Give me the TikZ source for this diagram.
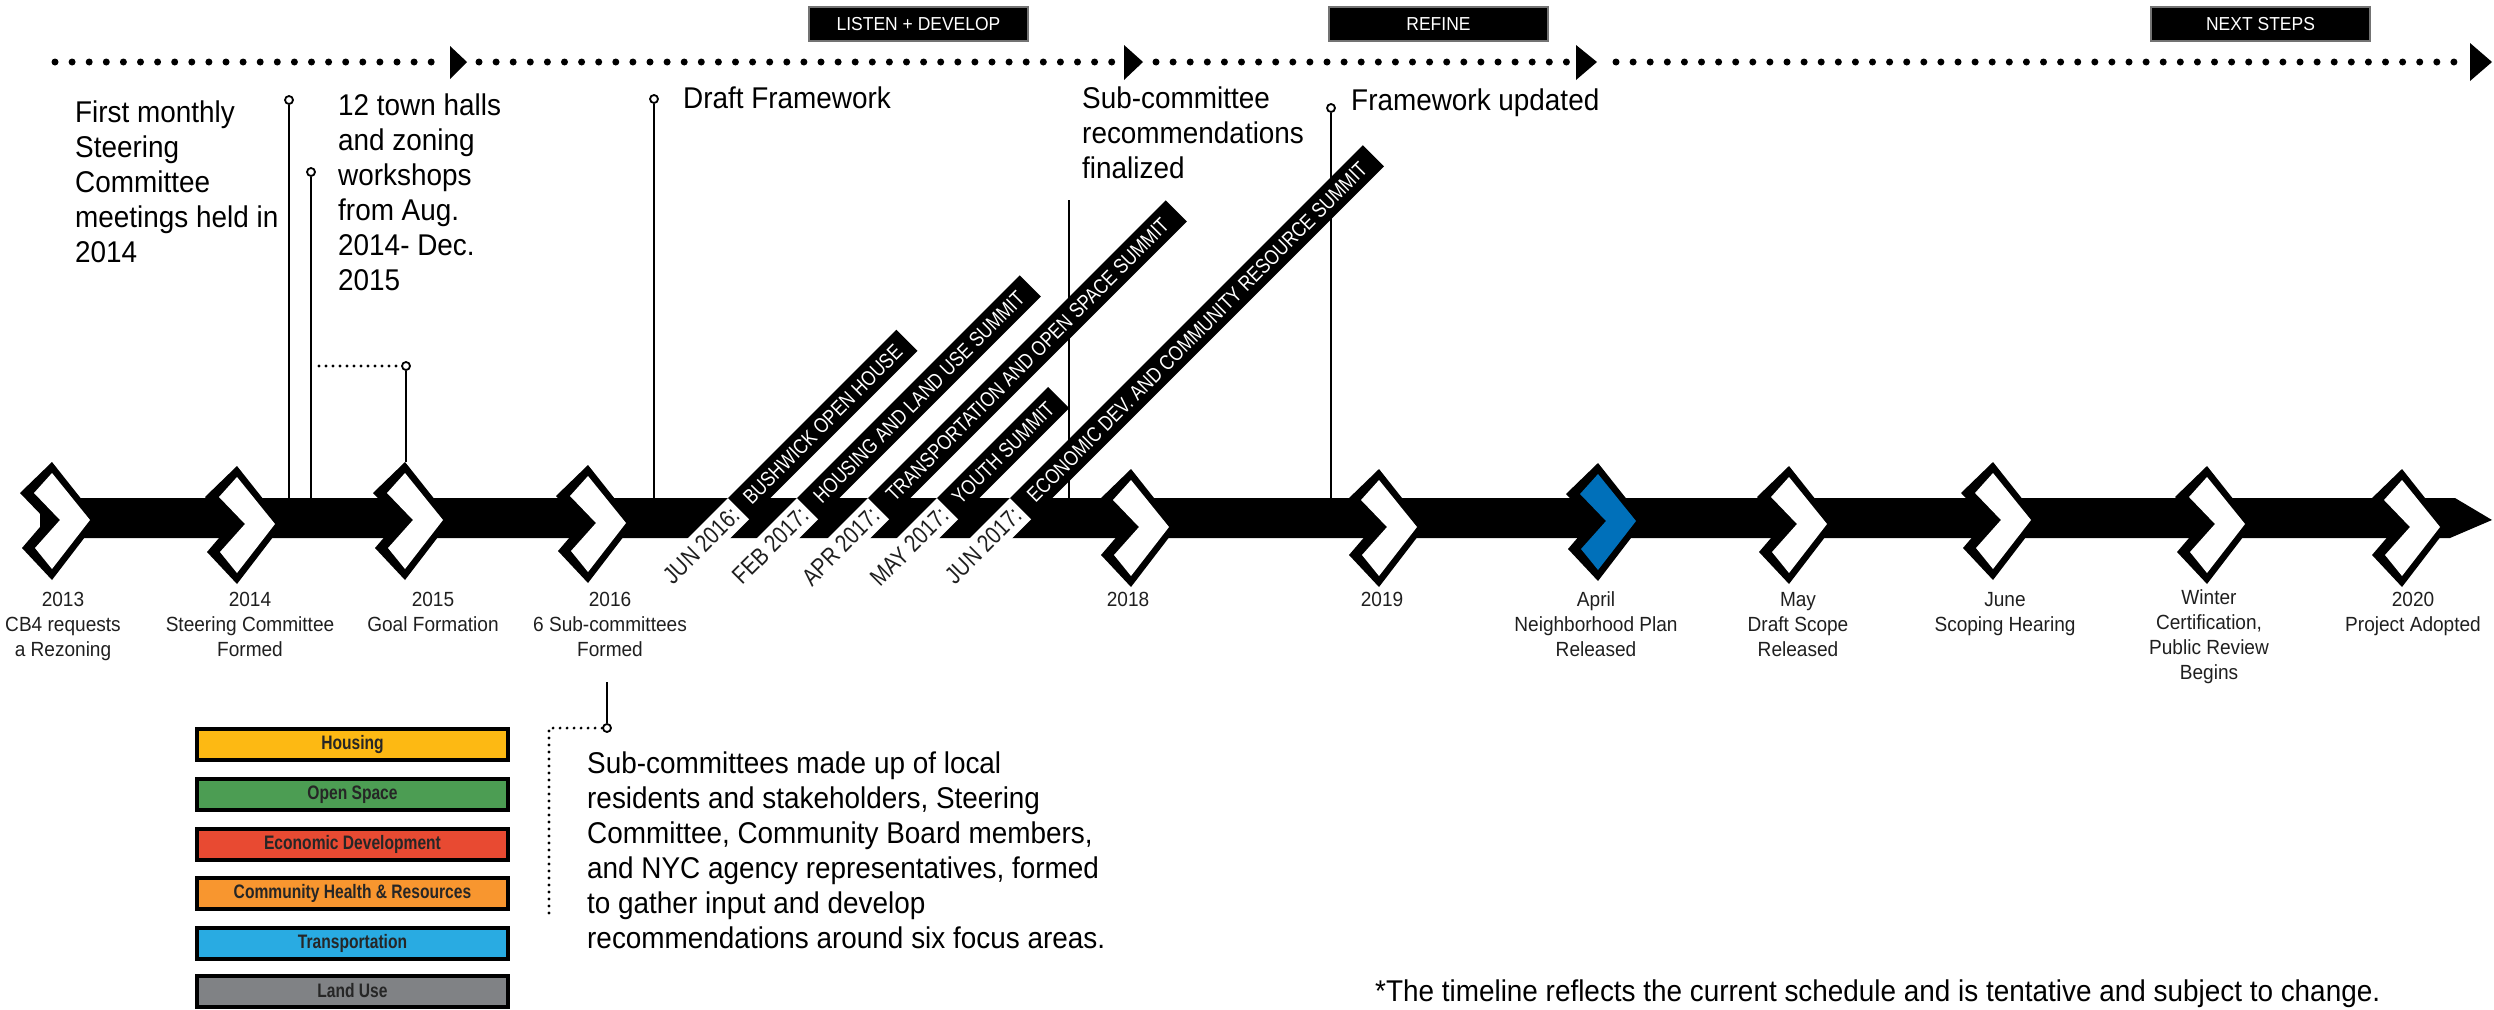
\documentclass[tikz,border=0pt]{standalone}
\usepackage{fontspec}
\setmainfont[FakeStretch=0.93]{Liberation Sans}
\newfontfamily\condfont[FakeStretch=0.83]{Liberation Sans}
\newfontfamily\legfont[FakeStretch=0.8]{Liberation Sans}
\definecolor{housing}{RGB}{253,185,19}
\definecolor{openspace}{RGB}{76,157,83}
\definecolor{econ}{RGB}{232,74,50}
\definecolor{community}{RGB}{248,150,47}
\definecolor{transport}{RGB}{41,171,226}
\definecolor{landuse}{RGB}{128,130,133}
\definecolor{chevblue}{RGB}{0,112,186}
\newcommand\mychev[3]{%
  \begin{scope}[shift={(#1,#2)}]
    \fill[black] (0,-58) -- (46,0) -- (0,60) -- (-30,28) -- (-6,0) -- (-32,-27) -- cycle;
    \fill[#3] (0,-47) -- (38,0) -- (0,49) -- (-17,28) -- (8,0) -- (-18,-27) -- cycle;
  \end{scope}}
\newcommand\mybanner[5]{%
  \begin{scope}[shift={(#1,498)}, rotate=45]
    \fill[white] (-70,0) rectangle (0,30);
    \fill[black] (0,0) rectangle (#2,30);
    \node[datetxt, anchor=east, rotate=45] (d#5) at (-4,15) {#3};
    \node[bantxt, rotate=45] (t#5) at ({#2/2},15) {#4};
  \end{scope}}
\begin{document}
\begin{tikzpicture}[x=1pt, y=-1pt,
  big/.style={font=\fontsize{30}{35}\selectfont, inner sep=0pt, align=left},
  lab/.style={font=\fontsize{20.5}{25}\selectfont, inner sep=0pt, align=center, text=black!88},
  bantxt/.style={font=\condfont\fontsize{21}{22}\selectfont, inner sep=0pt, text=white},
  datetxt/.style={font=\condfont\fontsize{24.5}{26}\selectfont, inner sep=0pt, text=black!88},
  phase/.style={fill=black, draw=black!55, line width=1.5pt, text=white,
    font=\fontsize{18.8}{20}\selectfont, minimum width=219pt, minimum height=34pt, inner sep=0pt},
  legbox/.style={draw=black, line width=4pt, minimum width=311pt, minimum height=31pt,
    inner sep=0pt, font=\legfont\bfseries\fontsize{19.5}{20}\selectfont, text=black!85},
  bigdots/.style={line width=7pt, line cap=round, dash pattern=on 0pt off 17.1pt},
  smalldots/.style={line width=3.2pt, line cap=round, dash pattern=on 0pt off 7pt},
  callout/.style={line width=2.2pt},
  pindot/.style={circle, draw, line width=1.8pt, fill=white, inner sep=0pt, minimum size=8pt}]
\useasboundingbox (0,0) rectangle (2494,1009);

% top dotted phase line
\draw[bigdots] (55,62) -- (440,62);
\draw[bigdots] (479,62) -- (1117,62);
\draw[bigdots] (1156,62) -- (1568,62);
\draw[bigdots] (1616,62) -- (2462,62);
\fill (450,46) -- (467,62) -- (450,79) -- cycle;
\fill (1124,45) -- (1143,62) -- (1124,80) -- cycle;
\fill (1576,45) -- (1597,62) -- (1576,80) -- cycle;
\fill (2470,43) -- (2492,62) -- (2470,81) -- cycle;

\node[phase] (p1) at (918.5,24) {LISTEN + DEVELOP};
\node[phase] (p2) at (1438.5,24) {REFINE};
\node[phase] (p3) at (2260.5,24) {NEXT STEPS};

% callout lines
\node[pindot] (c1) at (289,100) {};
\node[pindot] (c2) at (311,172) {};
\node[pindot] (c3) at (406,366) {};
\node[pindot] (c4) at (654,99) {};
\node[pindot] (c6) at (1331,108) {};
\coordinate (b1) at (289,498);
\coordinate (b2) at (311,498);
\coordinate (b3) at (406,462);
\coordinate (b4) at (654,498);
\coordinate (a5) at (1069,200);
\coordinate (b5) at (1069,498);
\coordinate (b6) at (1331,498);
\coordinate (h3) at (319,366);
\draw[callout] (c1) -- (b1);
\draw[callout] (c2) -- (b2);
\draw[callout] (c3) -- (b3);
\draw[callout] (c4) -- (b4);
\draw[callout] (a5) -- (b5);
\draw[callout] (c6) -- (b6);
\draw[smalldots] (h3) -- (c3.west);

% main bar
\fill[black] (40,498) -- (2455,498) -- (2492,520) -- (2450,538) -- (40,538) -- cycle;

% diagonal banners
\mybanner{728}{238}{JUN 2016:}{BUSHWICK OPEN HOUSE}{1}
\mybanner{797}{315}{FEB 2017:}{HOUSING AND LAND USE SUMMIT}{2}
\mybanner{868}{421}{APR 2017:}{TRANSPORTATION AND OPEN SPACE SUMMIT}{3}
\mybanner{937}{157}{MAY 2017:}{YOUTH SUMMIT}{4}
\mybanner{1010}{499}{JUN 2017:}{ECONOMIC DEV. AND COMMUNITY RESOURCE SUMMIT}{5}

% chevrons
\mychev{52}{520}{white}
\mychev{237}{524}{white}
\mychev{405}{520}{white}
\mychev{588}{523}{white}
\mychev{1131}{527}{white}
\mychev{1379}{527}{white}
\mychev{1598}{521}{chevblue}
\mychev{1789}{524}{white}
\mychev{1993}{520}{white}
\mychev{2207}{524}{white}
\mychev{2402}{527}{white}

% chevron labels (anchor = baseline of last line)
\node[lab, anchor=base] (l2013) at (63,656) {2013\\CB4 requests\\a Rezoning};
\node[lab, anchor=base] (l2014) at (250,656) {2014\\Steering Committee\\Formed};
\node[lab, anchor=base] (l2015) at (433,631) {2015\\Goal Formation};
\node[lab, anchor=base] (l2016) at (610,656) {2016\\6 Sub-committees\\Formed};
\node[lab, anchor=base] (l2018) at (1128,606) {2018};
\node[lab, anchor=base] (l2019) at (1382,606) {2019};
\node[lab, anchor=base] (lapr) at (1596,656) {April\\Neighborhood Plan\\Released};
\node[lab, anchor=base] (lmay) at (1798,656) {May\\Draft Scope\\Released};
\node[lab, anchor=base] (ljun) at (2005,631) {June\\Scoping Hearing};
\node[lab, anchor=base] (lwin) at (2209,679) {Winter\\Certification,\\Public Review\\Begins};
\node[lab, anchor=base] (l2020) at (2413,631) {2020\\Project Adopted};

% top texts
\node[big, anchor=base west] (tfirst) at (75,262) {First monthly\\Steering\\Committee\\meetings held in\\2014};
\node[big, anchor=base west] (ttown) at (338,290) {12 town halls\\and zoning\\workshops\\from Aug.\\2014- Dec.\\2015};
\node[big, anchor=base west] (tdraft) at (683,108) {Draft Framework};
\node[big, anchor=base west] (tsub) at (1082,178) {Sub-committee\\recommendations\\finalized};
\node[big, anchor=base west] (tupd) at (1351,110) {Framework updated};

% sub-committee callout
\node[pindot] (c7) at (607,728) {};
\coordinate (a7) at (607,682);
\coordinate (h7) at (549,728);
\coordinate (v7) at (549,913);
\draw[callout] (a7) -- (c7.north);
\draw[smalldots] (c7.west) -- (h7) -- (v7);
\node[big, anchor=base west] (subtxt) at (587,948) {Sub-committees made up of local\\residents and stakeholders, Steering\\Committee, Community Board members,\\and NYC agency representatives, formed\\to gather input and develop\\recommendations around six focus areas.};

% legend
\node[legbox, fill=housing] (lg1) at (352.5,744.5) {Housing};
\node[legbox, fill=openspace] (lg2) at (352.5,794.5) {Open Space};
\node[legbox, fill=econ] (lg3) at (352.5,844) {Economic Development};
\node[legbox, fill=community] (lg4) at (352.5,893) {Community Health \& Resources};
\node[legbox, fill=transport] (lg5) at (352.5,943) {Transportation};
\node[legbox, fill=landuse] (lg6) at (352.5,991) {Land Use};

% footnote
\node[big, anchor=base west] (foot) at (1375,1001) {*The timeline reflects the current schedule and is tentative and subject to change.};
\end{tikzpicture}
\end{document}
